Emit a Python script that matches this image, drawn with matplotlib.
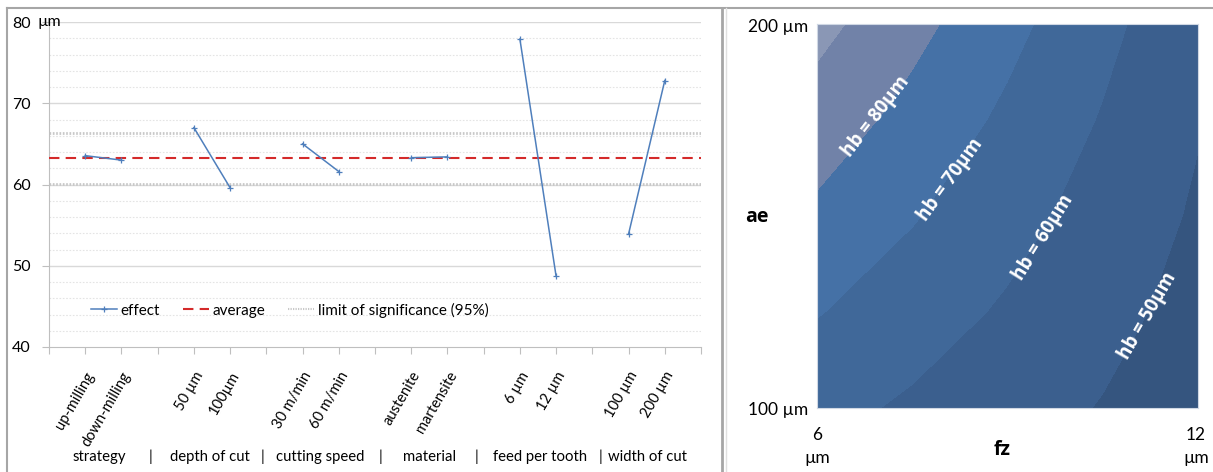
import numpy as np
import matplotlib
matplotlib.use('Agg')
from matplotlib import pyplot as plt
from matplotlib.lines import Line2D

plt.rcParams['font.family'] = ['Lato', 'DejaVu Sans']
BOLD = ['Open Sans', 'DejaVu Sans']

# left chart: main effects on burr height
tick_labels = ['', 'up-milling', 'down-milling', '', '50 µm', '100µm', '', '30 m/min', '60 m/min', '',
               'austenite', 'martensite', '', '6 µm', '12 µm', '', '100 µm', '200 µm', '']
effect = [np.nan, 63.55, 63.0, np.nan, 67.0, 59.6, np.nan, 65.0, 61.6, np.nan,
          63.3, 63.4, np.nan, 77.9, 48.7, np.nan, 53.9, 72.8, np.nan]
average = 63.3
limits = [60.1, 66.4]
groups = ['strategy', 'depth of cut', 'cutting speed', 'material', 'feed per tooth', 'width of cut']

# right chart: burr height hb over fz (columns) and ae (rows)
fz_vals = [6, 7.5, 9, 10.5, 12]
ae_vals = [100, 125, 150, 175, 200]
hb = [
    [63.0, 58.5, 54.0, 49.5, 45.0],
    [70.5, 64.6, 58.7, 52.8, 46.9],
    [78.0, 70.7, 63.4, 56.1, 48.8],
    [85.5, 76.8, 68.1, 59.3, 50.6],
    [93.0, 82.9, 72.8, 62.6, 52.5],
]
hb_levels = [40, 50, 60, 70, 80, 90, 100]
band_colors = ['#35557f', '#3b5f8e', '#406899', '#4571a6', '#7182a8', '#8a97b5']
contour_labels = ['hb = 80µm', 'hb = 70µm', 'hb = 60µm', 'hb = 50µm']

W, H = 1213, 472
fig = plt.figure(figsize=(W / 100, H / 100), dpi=100)

def fx(px):
    return px / W

def fy(py):
    return 1 - py / H

# ---- left panel ----
ax = fig.add_axes([fx(49), fy(347), fx(701 - 49), (347 - 22) / H])
x = np.arange(len(tick_labels))
grey = '#d9d9d9'
for v in np.arange(42, 80, 2):
    if v % 10:
        ax.axhline(v, color='#e4e4e4', lw=0.8, ls=(0, (1.5, 1.5)), zorder=1)
for v in [50, 60, 70, 80]:
    ax.axhline(v, color=grey, lw=1.0, zorder=1)
for v in limits:
    ax.axhline(v, color='#c8c8c8', lw=2.0, ls=(0, (0.6, 0.6)), zorder=2)
ax.axhline(average, color='#d42a2a', lw=1.5, ls=(0, (5, 3)), zorder=3)
ax.plot(x, effect, color='#4f7fbc', lw=1.1, marker='+', ms=5, mew=0.9, zorder=4)

ax.set_xlim(0, len(tick_labels) - 1)
ax.set_ylim(40, 80)
ax.set_yticks([40, 50, 60, 70, 80])
ax.set_xticks(x)
ax.set_xticklabels(tick_labels, rotation=60, ha='right', va='top', rotation_mode='anchor')
ax.tick_params(axis='x', length=5, color='#bfbfbf', pad=11, labelsize=10.5)
ax.tick_params(axis='y', length=5, color='#bfbfbf', pad=8, labelsize=11.5)
for s in ['top', 'right']:
    ax.spines[s].set_visible(False)
for s in ['left', 'bottom']:
    ax.spines[s].set_color('#bfbfbf')
ax.annotate('µm', xy=(0, 80), xycoords=('axes fraction', 'data'), xytext=(-8.5, 0),
            textcoords='offset points', ha='left', va='center', fontsize=11.5)

handles = [
    Line2D([], [], color='#4f7fbc', lw=1.1, marker='+', ms=5, markevery=[1], mew=0.9),
    Line2D([], [], color='#d42a2a', lw=1.5, ls=(0, (5, 3))),
    Line2D([], [], color='#c8c8c8', lw=1.5, ls=(0, (0.6, 0.6))),
]
handles[0].set_data([0, 0.5, 1], [0, 0, 0])
ax.legend(handles, ['effect', 'average', 'limit of significance (95%)'], ncol=3, frameon=False,
          loc='center left', bbox_to_anchor=((85 - 49) / 652 - 0.012, (347 - 310) / 325),
          fontsize=11, handlelength=1.7, handletextpad=0.25, columnspacing=1.5)

group_x = [99, 210, 320, 430, 540, 648]
sep_x = [150, 263, 381, 477, 600]
for gx, g in zip(group_x, groups):
    fig.text(fx(gx), fy(457), g, ha='center', va='center', fontsize=10.7)
for sx in sep_x:
    fig.text(fx(sx), fy(457), '|', ha='center', va='center', fontsize=10.7)

# ---- right panel ----
ax2 = fig.add_axes([fx(817), fy(408), fx(1198 - 817), (408 - 24) / H])
ax2.contourf(fz_vals, ae_vals, hb, levels=hb_levels, colors=band_colors)
ax2.set_xlim(6, 12)
ax2.set_ylim(100, 200)
ax2.set_xticks([])
ax2.set_yticks([])
for s in ax2.spines.values():
    s.set_color('#d0d8e4')
    s.set_linewidth(0.8)

def to_data(px, py):
    return 6 + (px - 817) / 381 * 6, 100 + (408 - py) / 384 * 100

label_pos = [(876, 117, 52), (950, 180, 54), (1043, 238, 58), (1148, 316, 60)]
for (px, py, rot), lab in zip(label_pos, contour_labels):
    dx, dy = to_data(px, py)
    ax2.text(dx, dy, lab, rotation=rot, rotation_mode='anchor', ha='center', va='center',
             color='white', fontsize=13.5, fontweight='bold', family=BOLD)

fig.text(fx(808), fy(27), '200 µm', ha='right', va='center', fontsize=12.5)
fig.text(fx(808), fy(410), '100 µm', ha='right', va='center', fontsize=12.5)
fig.text(fx(757), fy(217), 'ae', ha='center', va='center', fontsize=14, fontweight='bold', family=BOLD)
fig.text(fx(817), fy(435), '6', ha='center', va='center', fontsize=12.5)
fig.text(fx(817), fy(458), 'µm', ha='center', va='center', fontsize=12.5)
fig.text(fx(1196), fy(435), '12', ha='center', va='center', fontsize=12.5)
fig.text(fx(1196), fy(458), 'µm', ha='center', va='center', fontsize=12.5)
fig.text(fx(1002), fy(450), 'fz', ha='center', va='center', fontsize=14, fontweight='bold', family=BOLD)

# frame lines around the panels
frame = '#a6a6a6'
fig.add_artist(Line2D([fx(7), 1], [fy(8), fy(8)], color=frame, lw=1.5))
fig.add_artist(Line2D([fx(7), fx(7)], [fy(8), 0], color=frame, lw=1.5))
fig.add_artist(Line2D([fx(722), fx(722)], [fy(8), 0], color=frame, lw=2.0))
fig.add_artist(Line2D([fx(726), fx(726)], [fy(8), 0], color='#e0e0e0', lw=1.0))

fig.savefig('out.png', dpi=100)
